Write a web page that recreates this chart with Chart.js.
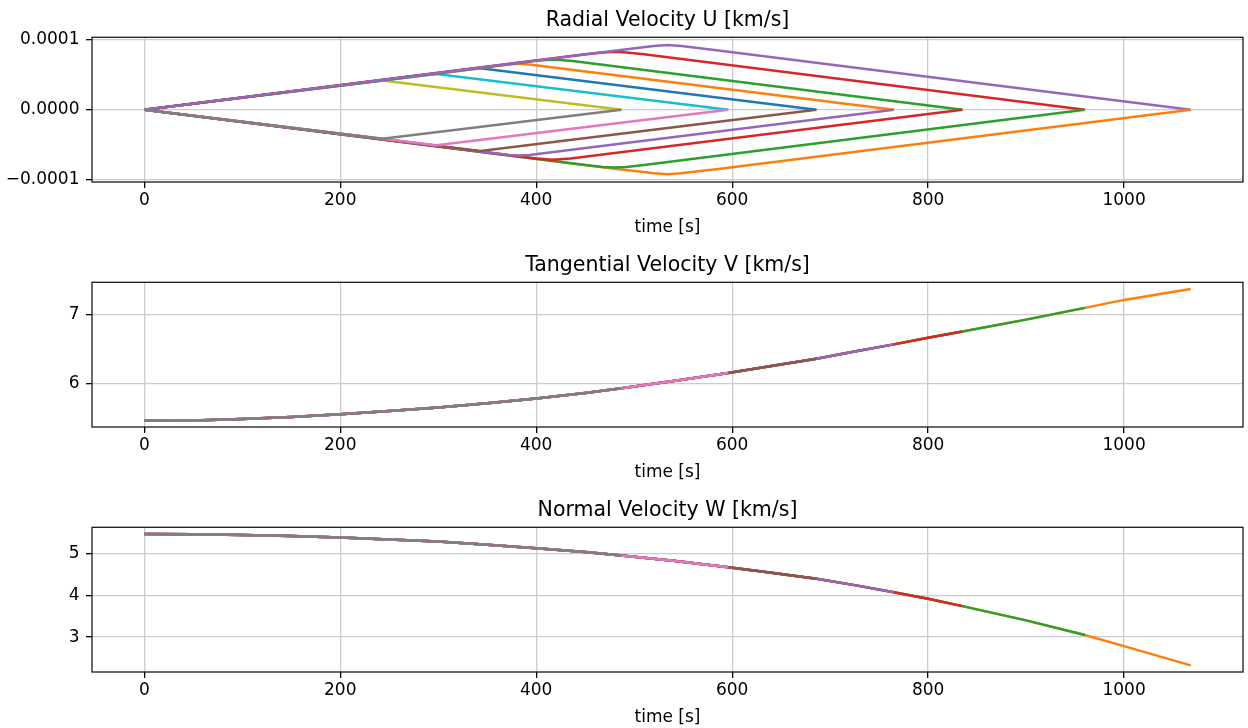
<!DOCTYPE html>
<html>
<head>
<meta charset="utf-8">
<script src="https://cdn.jsdelivr.net/npm/chart.js@4.4.0/dist/chart.umd.min.js"></script>
<style>
html,body{margin:0;padding:0;background:#fff;width:1248px;height:728px;overflow:hidden;}
canvas{position:absolute;left:0;}
</style>
</head>
<body>
<canvas id="cU" width="1248" height="238" style="top:0px"></canvas>
<canvas id="cV" width="1248" height="238" style="top:245px"></canvas>
<canvas id="cW" width="1248" height="238" style="top:490px"></canvas>
<script>
// ---------- data ----------
const endTimes = [487, 596, 686, 765, 835, 960, 1068];

// colours of upper (+U) and lower (-U) branch for each arc (ordered by end time)
const upperColors = ['#bcbd22', '#17becf', '#1f77b4', '#ff7f0e', '#2ca02c', '#d62728', '#9467bd'];
const lowerColors = ['#7f7f7f', '#e377c2', '#8c564b', '#9467bd', '#d62728', '#2ca02c', '#ff7f0e'];

// radial velocity U: time samples for each arc
const uTimes = [
  [0, 243, 487],
  [0, 298, 596],
  [0, 343, 686],
  [0, 372, 382, 393, 765],
  [0, 400, 417, 435, 835],
  [0, 450, 468, 480, 492, 510, 960],
  [0, 480, 505, 520, 534, 548, 563, 588, 1068]
];
// upper branch values [km/s]
const uUpper = [
  [0, 0.418e-4, 0],
  [0, 0.510e-4, 0],
  [0, 0.592e-4, 0],
  [0, 0.648e-4, 0.658e-4, 0.648e-4, 0],
  [0, 0.700e-4, 0.718e-4, 0.700e-4, 0],
  [0, 0.792e-4, 0.820e-4, 0.830e-4, 0.820e-4, 0.792e-4, 0],
  [0, 0.845e-4, 0.886e-4, 0.912e-4, 0.925e-4, 0.912e-4, 0.886e-4, 0.845e-4, 0]
];
// lower branch values [km/s]
const uLower = [
  [0, -0.418e-4, 0],
  [0, -0.510e-4, 0],
  [0, -0.592e-4, 0],
  [0, -0.648e-4, -0.658e-4, -0.648e-4, 0],
  [0, -0.700e-4, -0.718e-4, -0.700e-4, 0],
  [0, -0.792e-4, -0.820e-4, -0.830e-4, -0.820e-4, -0.792e-4, 0],
  [0, -0.845e-4, -0.886e-4, -0.912e-4, -0.925e-4, -0.912e-4, -0.886e-4, -0.845e-4, 0]
];

// tangential V and normal W (common to all arcs, each arc stops at its end time)
const tGrid = [0, 50, 100, 150, 200, 250, 300, 350, 400, 450, 487, 540, 596, 640, 686, 725, 765, 800, 835, 900, 960, 1000, 1068];
const vVals = [5.458, 5.462, 5.483, 5.512, 5.555, 5.600, 5.652, 5.714, 5.783, 5.862, 5.932, 6.038, 6.154, 6.255, 6.362, 6.465, 6.570, 6.665, 6.758, 6.930, 7.101, 7.217, 7.377];
const wVals = [5.462, 5.456, 5.438, 5.410, 5.374, 5.330, 5.279, 5.205, 5.120, 5.030, 4.945, 4.820, 4.667, 4.535, 4.390, 4.240, 4.070, 3.914, 3.740, 3.400, 3.050, 2.786, 2.326];

// ticks
const xTicks = [0, 200, 400, 600, 800, 1000];
const uTicks = [-1e-4, 0, 1e-4];
const uTickLabels = ['\u22120.0001', '0.0000', '0.0001'];
const vTicks = [6, 7];
const wTicks = [3, 4, 5];

// ---------- chart construction ----------
Chart.defaults.font.family = "'DejaVu Sans', sans-serif";
Chart.defaults.color = '#000';

const framePlugin = {
  id: 'frame',
  afterDatasetsDraw(chart) {
    const a = chart.chartArea, ctx = chart.ctx;
    ctx.save();
    ctx.strokeStyle = '#1a1a1a';
    ctx.lineWidth = 1.3;
    ctx.strokeRect(a.left, a.top, a.right - a.left, a.bottom - a.top);
    ctx.restore();
  }
};

function pts(ts, ys) { return ts.map((t, i) => ({x: t, y: ys[i]})); }

// datasets listed bottom-to-top, then reversed (Chart.js draws index 0 on top)
function buildU() {
  const list = [];
  for (let k = 0; k < endTimes.length; k++) list.push({data: pts(uTimes[k], uUpper[k]), color: upperColors[k]});
  for (let k = endTimes.length - 1; k >= 0; k--) list.push({data: pts(uTimes[k], uLower[k]), color: lowerColors[k]});
  return list;
}
// in V and W only the last-drawn (lower-branch colour) arcs are visible
function buildCommon(vals) {
  const list = [];
  const slice = T => tGrid.map((t, i) => ({x: t, y: vals[i]})).filter(p => p.x <= T);
  for (let k = endTimes.length - 1; k >= 0; k--) list.push({data: slice(endTimes[k]), color: lowerColors[k]});
  return list;
}

function makeChart(id, title, series, yMin, yMax, yTicks, yLabelFn) {
  const datasets = series.map(s => ({
    data: s.data, borderColor: s.color, backgroundColor: s.color,
    borderWidth: 2.5, pointRadius: 0, tension: 0, fill: false
  })).reverse();
  const tickFont = {size: 17};
  new Chart(document.getElementById(id), {
    type: 'line',
    data: {datasets},
    options: {
      responsive: false, animation: false, devicePixelRatio: 1,
      parsing: false,
      layout: {padding: {left: 0, right: 5, top: 0, bottom: 0}},
      plugins: {
        legend: {display: false}, tooltip: {enabled: false},
        title: {display: true, text: title, fullSize: false, color: '#000',
                font: {size: 20.5, weight: 'normal'}, padding: {top: 8, bottom: 4.7}}
      },
      scales: {
        x: {
          type: 'linear', min: -53.4, max: 1121.4,
          afterBuildTicks: s => { s.ticks = xTicks.map(v => ({value: v})); },
          ticks: {font: tickFont, color: '#000', padding: 2, maxRotation: 0, autoSkip: false,
                  callback: v => String(v)},
          grid: {color: '#cccccc', lineWidth: 1.3, tickColor: '#000', tickLength: 6, tickWidth: 1.3},
          border: {display: false},
          title: {display: true, text: 'time [s]', font: {size: 17}, color: '#000', padding: {top: 0, bottom: 0}},
          afterFit: s => { s.height = 56; }
        },
        y: {
          type: 'linear', min: yMin, max: yMax,
          afterBuildTicks: s => { s.ticks = yTicks.map(v => ({value: v})); },
          ticks: {font: tickFont, color: '#000', padding: 6.5, autoSkip: false,
                  callback: (v, i) => yLabelFn(v, i)},
          grid: {color: '#cccccc', lineWidth: 1.3, tickColor: '#000', tickLength: 6, tickWidth: 1.3},
          border: {display: false},
          afterFit: s => { s.width = 92; }
        }
      }
    },
    plugins: [framePlugin]
  });
}

makeChart('cU', 'Radial Velocity U [km/s]', buildU(), -1.036e-4, 1.036e-4, uTicks, (v, i) => uTickLabels[i]);
makeChart('cV', 'Tangential Velocity V [km/s]', buildCommon(vVals), 5.368, 7.473, vTicks, v => String(v));
makeChart('cW', 'Normal Velocity W [km/s]', buildCommon(wVals), 2.169, 5.619, wTicks, v => String(v));
</script>
</body>
</html>
